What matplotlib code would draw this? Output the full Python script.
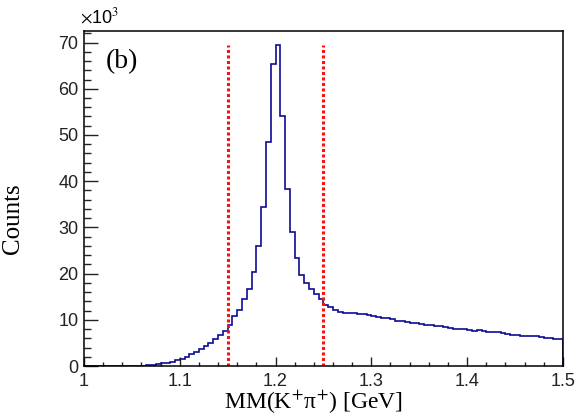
import matplotlib
matplotlib.use("Agg")
import matplotlib.pyplot as plt
from matplotlib.ticker import MultipleLocator
import numpy as np

# Histogram of MM(K+ pi+), 100 bins of 5 MeV from 1.0 to 1.5 GeV, counts in units of 10^3
bin_lo = 1.0
bin_hi = 1.5
n_bins = 100

counts_low = [  # 1.000 - 1.145
    0.0, 0.0, 0.0, 0.0, 0.0, 0.0, 0.0, 0.0, 0.02, 0.03,
    0.04, 0.05, 0.08, 0.15, 0.3, 0.4, 0.6, 0.7, 0.9, 1.3,
    1.5, 2.0, 2.5, 3.1, 3.7, 4.4, 4.9, 5.9, 6.7, 7.6,
]
counts_peak = [  # 1.150 - 1.245
    8.8, 10.8, 12.2, 14.4, 16.7, 20.3, 26.0, 34.4, 48.5, 65.3,
    69.5, 54.0, 38.4, 28.9, 23.3, 19.8, 18.0, 16.6, 15.5, 14.6,
]
counts_high = [  # 1.250 - 1.495
    13.3, 12.7, 12.2, 11.7, 11.5, 11.5, 11.4, 11.3, 11.2, 11.0,
    10.8, 10.6, 10.4, 10.4, 10.1, 9.8, 9.7, 9.5, 9.4, 9.3,
    9.0, 8.9, 8.8, 8.7, 8.6, 8.5, 8.3, 8.0, 8.0, 7.9,
    7.8, 7.6, 7.7, 7.5, 7.4, 7.4, 7.3, 7.2, 7.0, 6.8,
    6.7, 6.6, 6.5, 6.5, 6.4, 6.3, 6.1, 6.0, 5.9, 5.8,
]
cut_lines = [1.15, 1.25]

counts = np.array(counts_low + counts_peak + counts_high)
edges = np.linspace(bin_lo, bin_hi, n_bins + 1)

plt.rcParams['mathtext.fontset'] = 'stix'
serif = ['Liberation Serif', 'DejaVu Serif']
sans = ['Liberation Sans', 'DejaVu Sans']

fig = plt.figure(figsize=(5.87, 4.17), dpi=100)
ax = fig.add_axes([0.143, 0.1223, 0.816, 0.8034])

ax.stairs(counts, edges, color='#0c0c96', linewidth=1.2)
ax.vlines(cut_lines, 0, counts.max(), colors='#ff1010', linewidth=2.2,
          linestyles=(0, (1.0, 0.8)))

ax.set_xlim(bin_lo, bin_hi)
ax.set_ylim(0, 72.5)
ax.xaxis.set_major_locator(MultipleLocator(0.1))
ax.xaxis.set_minor_locator(MultipleLocator(0.02))
ax.yaxis.set_major_locator(MultipleLocator(10))
ax.yaxis.set_minor_locator(MultipleLocator(2))
ax.set_xticks([1.0, 1.1, 1.2, 1.3, 1.4, 1.5], ['1', '1.1', '1.2', '1.3', '1.4', '1.5'])

ax.tick_params(axis='both', which='both', direction='in', colors='#222222', labelsize=13)
ax.tick_params(axis='x', which='major', length=6.5, width=1.0, pad=5)
ax.tick_params(axis='x', which='minor', length=3, width=1.0)
ax.tick_params(axis='y', which='major', length=10, width=1.0, pad=4)
ax.tick_params(axis='y', which='minor', length=5, width=1.0)
for lab in ax.get_xticklabels() + ax.get_yticklabels():
    lab.set_family(sans)
for s in ax.spines.values():
    s.set_linewidth(1.1)

ax.set_xlabel('MM(K$^{+}$π$^{+}$) [GeV]', family=serif, fontsize=17, labelpad=0)
ax.xaxis.set_label_coords(0.48, -0.128, transform=ax.transAxes)
ax.xaxis.label.set_va('baseline')
ax.set_ylabel('Counts', family=serif, fontsize=18)
ax.yaxis.set_label_coords(-0.125, 0.44, transform=ax.transAxes)
ax.text(0.045, 0.91, '(b)', transform=ax.transAxes, family=serif, fontsize=20,
        ha='left', va='center')
ax.text(-0.008, 1.012, r'$\times$10$^{3}$', transform=ax.transAxes, family=sans,
        fontsize=13, ha='left', va='bottom')

fig.savefig('out.png', dpi=100)
